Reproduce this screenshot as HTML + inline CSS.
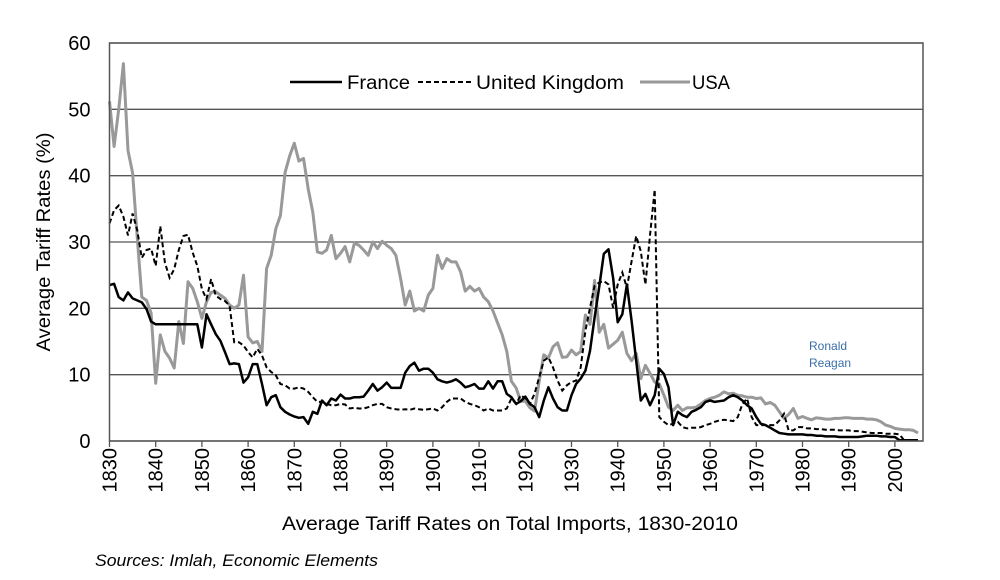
<!DOCTYPE html>
<html><head><meta charset="utf-8"><style>
body{margin:0;background:#fff;}
svg{display:block;font-family:"Liberation Sans",sans-serif;}
</style></head><body>
<svg id="chart" width="1000" height="580">
<g id="grid"></g>
<g id="series"></g>
<g id="axes"></g>
<g>
  <line x1="290" y1="82" x2="342" y2="82" stroke="#000" stroke-width="2.5"/>
  <text x="347" y="89" font-size="19" textLength="63" lengthAdjust="spacingAndGlyphs">France</text>
  <line x1="418" y1="82" x2="474" y2="82" stroke="#000" stroke-width="2" stroke-dasharray="5,3"/>
  <text x="476" y="89" font-size="19" textLength="148" lengthAdjust="spacingAndGlyphs">United Kingdom</text>
  <line x1="640" y1="82" x2="690" y2="82" stroke="#999" stroke-width="3"/>
  <text x="692" y="89" font-size="19" textLength="38" lengthAdjust="spacingAndGlyphs">USA</text>
</g>
<text x="809" y="350" font-size="12" fill="#3b6ea8">Ronald</text>
<text x="809" y="367" font-size="12" fill="#3b6ea8">Reagan</text>
<text transform="translate(50,242) rotate(-90)" text-anchor="middle" font-size="19" textLength="219" lengthAdjust="spacingAndGlyphs">Average Tariff Rates (%)</text>
<text x="510" y="530" text-anchor="middle" font-size="19" textLength="456" lengthAdjust="spacingAndGlyphs">Average Tariff Rates on Total Imports, 1830-2010</text>
<text x="95" y="566" font-size="17" font-style="italic" textLength="283" lengthAdjust="spacingAndGlyphs">Sources: Imlah, Economic Elements</text>
</svg>
<script>
const startYear = 1830;
const france = [23.5,23.7,21.7,21.2,22.4,21.5,21.2,20.9,19.9,18.0,
17.6,17.6,17.6,17.6,17.6,17.6,17.6,17.6,17.6,17.6,
14.1,19.1,17.6,16.1,15.1,13.4,11.6,11.7,11.6,8.8,
9.6,11.6,11.6,8.6,5.4,6.6,6.9,5.1,4.4,4.0,
3.7,3.5,3.6,2.6,4.4,4.1,6.1,5.4,6.4,6.1,
7.0,6.4,6.4,6.6,6.6,6.7,7.6,8.6,7.6,8.1,
8.8,8.0,8.0,8.0,10.3,11.3,11.8,10.6,10.9,10.9,
10.3,9.3,9.0,8.8,9.0,9.3,8.8,8.1,8.3,8.6,
7.9,7.9,9.0,7.9,9.0,9.0,7.1,6.6,5.6,6.0,
6.7,5.6,5.1,3.6,6.1,8.1,6.4,5.1,4.6,4.6,
6.9,8.6,9.4,10.6,13.6,18.6,23.2,28.2,28.9,24.6,
17.9,19.1,23.6,18.1,12.1,6.1,7.1,5.4,6.9,10.9,
10.1,8.1,2.4,4.4,3.9,3.6,4.4,4.7,5.1,5.9,
6.1,5.9,6.0,6.1,6.6,6.9,6.6,6.1,5.4,4.9,
3.6,2.6,2.4,2.0,1.6,1.2,1.1,1.0,1.0,1.0,
1.0,0.9,0.9,0.8,0.8,0.7,0.7,0.7,0.6,0.6,
0.6,0.6,0.6,0.7,0.8,0.8,0.8,0.7,0.7,0.6,
0.6,0.1,0.1,0.1,0.1,0.1];
const uk = [32.8,34.8,35.5,33.8,31.0,34.3,31.8,27.6,28.8,29.0,
26.4,32.4,26.9,24.6,25.9,28.8,30.9,31.1,28.4,26.4,
22.9,21.4,24.4,21.9,21.4,21.1,20.4,14.9,14.9,14.4,
13.4,12.6,13.9,12.9,11.1,10.4,9.9,8.6,8.4,7.9,
7.9,8.1,7.9,7.4,6.6,5.9,5.9,5.6,5.4,5.4,
5.6,5.5,4.9,5.0,4.9,4.9,5.1,5.4,5.6,5.6,
5.1,4.9,4.8,4.7,4.8,4.7,4.9,4.8,4.7,4.8,
4.9,4.6,5.1,5.9,6.4,6.4,6.4,5.9,5.6,5.4,
5.1,4.6,4.9,4.6,4.6,4.6,4.9,6.4,5.6,6.9,
6.4,5.6,7.1,9.6,12.1,12.6,11.1,9.1,7.6,8.4,
8.9,9.1,11.1,16.6,20.1,23.4,23.9,24.1,23.6,20.1,
23.6,25.4,23.1,27.1,30.9,28.6,23.6,31.0,37.9,3.6,
2.9,2.4,2.6,2.9,2.1,1.9,2.0,2.0,2.1,2.4,
2.6,2.9,3.1,3.2,3.1,3.0,3.6,5.6,6.4,3.6,
2.4,2.4,2.4,2.4,2.4,3.1,4.1,1.6,1.6,2.1,
2.1,1.9,1.9,1.8,1.8,1.7,1.7,1.7,1.6,1.6,
1.6,1.5,1.5,1.4,1.3,1.2,1.2,1.2,1.1,1.1,
1.1,1.0,0.1,0.1,0.1,0.1];
const usa = [51.2,44.4,50.0,56.9,43.8,40.4,30.8,21.7,21.2,19.3,
8.7,16.0,13.5,12.5,11.0,18.0,14.7,24.0,23.0,21.0,
18.5,21.0,22.4,22.5,22.0,21.5,20.5,20.0,20.5,25.0,
15.7,14.8,15.0,13.5,26.0,28.0,32.0,34.0,40.5,43.0,
44.9,42.2,42.6,38.0,34.5,28.5,28.3,28.8,31.0,27.5,
28.3,29.3,27.0,29.8,29.5,28.8,28.0,30.0,29.0,30.1,
29.5,29.0,28.0,24.5,20.5,22.6,19.6,20.0,19.6,22.0,
23.0,28.0,26.0,27.5,27.0,27.0,25.5,22.6,23.3,22.6,
23.0,21.7,21.0,19.6,17.8,16.0,13.5,9.0,8.0,6.0,
6.0,5.0,4.5,9.0,13.0,12.5,14.2,14.8,12.6,12.7,
13.7,13.0,13.5,19.0,17.6,24.2,16.4,17.6,14.0,14.6,
15.2,16.4,13.2,12.1,13.2,9.4,11.4,10.2,8.9,8.6,
6.9,5.1,4.6,5.4,4.6,5.0,5.0,5.1,5.6,6.1,
6.4,6.6,6.9,7.4,7.1,7.2,6.9,6.8,6.6,6.6,
6.4,6.5,5.6,5.8,5.4,4.4,3.4,4.0,4.9,3.4,
3.7,3.4,3.2,3.5,3.4,3.3,3.3,3.4,3.4,3.5,
3.5,3.4,3.4,3.4,3.3,3.3,3.2,2.9,2.4,2.2,
1.9,1.8,1.7,1.7,1.6,1.2];
const yTicks = [0,10,20,30,40,50,60];
const xTicks = [1830,1840,1850,1860,1870,1880,1890,1900,1910,1920,1930,1940,1950,1960,1970,1980,1990,2000];

const NS = "http://www.w3.org/2000/svg";
const L = 109.5, R = 923, T = 43, B = 441;
function xs(yr){ return L + (yr - 1830) * 4.62; }
function ys(v){ return B - v * (B - T) / 60; }
function mk(tag, attrs, parent){ const e = document.createElementNS(NS, tag); for (const k in attrs) e.setAttribute(k, attrs[k]); parent.appendChild(e); return e; }
const grid = document.getElementById('grid'), axes = document.getElementById('axes'), ser = document.getElementById('series');

yTicks.forEach(v => {
  const ln = mk('line', {x1:L, x2:R, y1:ys(v), y2:ys(v), stroke:'#555', 'stroke-width':1.3}, grid);
  
  
  const t = mk('text', {x:L-19, y:ys(v)+7, 'text-anchor':'end', 'font-size':20}, axes);
  t.textContent = v;
  
  
});
const frame = mk('rect', {x:L, y:T, width:R-L, height:B-T, fill:'none', stroke:'#555', 'stroke-width':1.5}, axes);


xTicks.forEach(yr => {
  const tk = mk('line', {x1:xs(yr), x2:xs(yr), y1:B, y2:B+6, stroke:'#555', 'stroke-width':1.3}, axes);
  
  
  const t = mk('text', {transform:'translate(' + (xs(yr)+7) + ',' + (B+7) + ') rotate(-90)', 'text-anchor':'end', 'font-size':20}, axes);
  t.textContent = yr;
  
  
});
function pathFor(arr){ return arr.map((v,i) => (i ? 'L' : 'M') + xs(startYear + i).toFixed(1) + ',' + ys(v).toFixed(1)).join(''); }
const pUsa = mk('path', {d:pathFor(usa), fill:'none', stroke:'#999', 'stroke-width':3, 'stroke-linejoin':'round'}, ser);


const pUk = mk('path', {d:pathFor(uk), fill:'none', stroke:'#000', 'stroke-width':2, 'stroke-dasharray':'5,3'}, ser);


const pFr = mk('path', {d:pathFor(france), fill:'none', stroke:'#000', 'stroke-width':2.5, 'stroke-linejoin':'round'}, ser);


</script>
</body></html>
